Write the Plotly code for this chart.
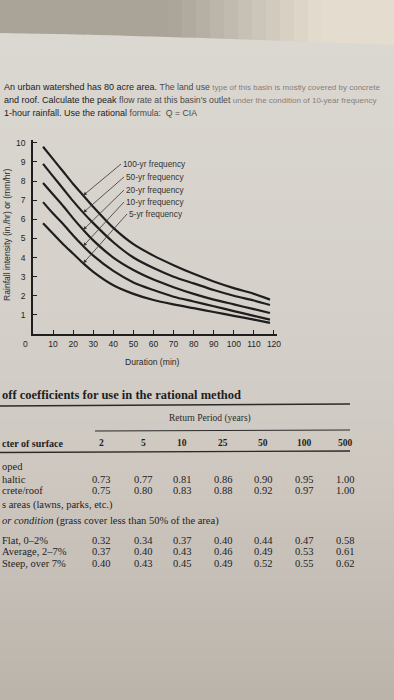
import plotly.graph_objects as go

W, H = 394, 700

# ---------------- data ----------------
durations = [5, 10, 15, 20, 25, 30, 40, 50, 60, 70, 80, 90, 100, 110, 118]
i_100yr = [9.8, 9.15, 8.5, 7.85, 7.25, 6.65, 5.55, 4.7, 4.1, 3.6, 3.15, 2.75, 2.4, 2.1, 1.8]
i_50yr = [8.9, 8.25, 7.6, 6.95, 6.35, 5.8, 4.8, 4.0, 3.45, 3.0, 2.65, 2.3, 2.0, 1.75, 1.52]
i_20yr = [7.9, 7.3, 6.7, 6.05, 5.45, 4.9, 4.0, 3.35, 2.85, 2.45, 2.1, 1.8, 1.55, 1.3, 1.1]
i_10yr = [6.9, 6.3, 5.75, 5.15, 4.6, 4.1, 3.3, 2.7, 2.3, 1.95, 1.7, 1.45, 1.2, 0.95, 0.75]
i_5yr = [5.8, 5.25, 4.7, 4.2, 3.7, 3.25, 2.55, 2.1, 1.78, 1.55, 1.35, 1.15, 0.95, 0.75, 0.58]
curve_labels = ["100-yr frequency", "50-yr frequency", "20-yr frequency",
                "10-yr frequency", "5-yr frequency"]
x_ticks = [10, 20, 30, 40, 50, 60, 70, 80, 90, 100, 110, 120]
y_ticks = [1, 2, 3, 4, 5, 6, 7, 8, 9, 10]

question_lines = [
    ["An urban watershed has 80 acre area. ", "The land use ",
     "type of this basin is mostly covered by concrete"],
    ["and roof. Calculate the peak ", "flow rate at this basin's outlet ",
     "under the condition of 10-year frequency"],
    ["1-hour rainfall. Use the rational ", "formula:  Q = CIA", ""],
]

table_title = "off coefficients for use in the rational method"
return_period_title = "Return Period (years)"
surface_header = "cter of surface"
return_periods = ["2", "5", "10", "25", "50", "100", "500"]
row_labels = ["oped", "haltic", "crete/roof", "s areas (lawns, parks, etc.)",
              "<i>or condition</i> (grass cover less than 50% of the area)",
              "Flat, 0–2%", "Average, 2–7%", "Steep, over 7%"]
c_asphaltic = [0.73, 0.77, 0.81, 0.86, 0.90, 0.95, 1.00]
c_concrete = [0.75, 0.80, 0.83, 0.88, 0.92, 0.97, 1.00]
c_flat = [0.32, 0.34, 0.37, 0.40, 0.44, 0.47, 0.58]
c_average = [0.37, 0.40, 0.43, 0.46, 0.49, 0.53, 0.61]
c_steep = [0.40, 0.43, 0.45, 0.49, 0.52, 0.55, 0.62]
row_values = [None, c_asphaltic, c_concrete, None, None, c_flat, c_average, c_steep]

# ---------------- layout helpers ----------------
L, R, T, B = 33, 117, 140, 366
PW = W - L - R
PH = H - T - B
X_MAX, Y_MAX = 121.5, 10.15


def fx(px):
    return (px - L) / PW


def fy(py):
    return (H - B - py) / PH


def hex2rgb(h):
    h = h.lstrip("#")
    return [int(h[i:i + 2], 16) for i in (0, 2, 4)]


def mix(c1, c2, t):
    a, b = hex2rgb(c1), hex2rgb(c2)
    return "#%02x%02x%02x" % tuple(int(round(a[i] + (b[i] - a[i]) * t)) for i in range(3))


INK = "#1e1e1e"
SANS = "Liberation Sans, Arial, sans-serif"
SERIF = "Liberation Serif, Times New Roman, serif"

fig = go.Figure()
curves = [i_100yr, i_50yr, i_20yr, i_10yr, i_5yr]
for lab, ys in zip(curve_labels, curves):
    fig.add_trace(go.Scatter(x=durations, y=ys, mode="lines", name=lab,
                             line=dict(color=INK, width=2.2, shape="spline", smoothing=0.8),
                             showlegend=False, hoverinfo="skip"))

shapes = []
# paper background gradient bands
stops = [(30, "#dbd7d1"), (300, "#d5d1ca"), (480, "#cdc7c0"), (700, "#bbb4ab")]
for y0 in range(30, 700, 10):
    yc = y0 + 5
    col = stops[-1][1]
    for (ya, ca), (yb_, cb) in zip(stops[:-1], stops[1:]):
        if ya <= yc <= yb_:
            col = mix(ca, cb, (yc - ya) / (yb_ - ya))
    shapes.append(dict(type="rect", xref="paper", yref="paper", layer="below",
                       x0=fx(0), x1=fx(W), y0=fy(y0 + 10.5), y1=fy(y0),
                       line=dict(width=0), fillcolor=col))


def yb(px):
    return 33 + 12 * (px / W) ** 1.3


# top dark surface above the page edge
step = 14
for x0 in range(0, W, step):
    x1 = min(x0 + step + 1, W)
    t = min(max(((x0 + x1) / 2 - 170) / 150, 0), 1)
    col = mix("#a9a398", "#e4dccf", t)
    path = "M %f %f L %f %f L %f %f L %f %f Z" % (
        fx(x0), fy(0), fx(x1), fy(0), fx(x1), fy(yb(x1)), fx(x0), fy(yb(x0)))
    shapes.append(dict(type="path", xref="paper", yref="paper", layer="below",
                       path=path, line=dict(width=0), fillcolor=col))

# table rules
for (xa, ya, xb, yb2, w) in [(0, 406, 350, 404, 1.6), (95, 431, 350, 430, 1.0),
                             (0, 452.5, 350, 451, 1.4)]:
    shapes.append(dict(type="line", xref="paper", yref="paper",
                       x0=fx(xa), y0=fy(ya), x1=fx(xb), y1=fy(yb2),
                       line=dict(color="#2a2a2a", width=w)))

ann = []


def text_at(px, py, text, size, family, color=INK, xanchor="center", **kw):
    ann.append(dict(xref="paper", yref="paper", x=fx(px), y=fy(py), text=text,
                    xanchor=xanchor, yanchor="middle", showarrow=False,
                    font=dict(family=family, size=size, color=color), **kw))


# question text (right part smaller and fainter, as in the photographed page)
tiers = [("#1c1c1c", 9), ("#4d4a47", 8.7), ("#85817b", 8)]
for parts, py in zip(question_lines, [87, 100, 113]):
    txt = "".join('<span style="color:%s;font-size:%spx">%s</span>' % (c, s, p)
                  for (c, s), p in zip(tiers, parts) if p)
    text_at(2, py, txt, 9, SANS, xanchor="left")

# curve labels with arrows (heads on the curves at 25 min)
head_idx = 4
tails = [(121, 164), (124, 177), (124, 190), (124, 202), (127, 214)]
for lab, ys, (tx, ty) in zip(curve_labels, curves, tails):
    hx = durations[head_idx]
    hy = ys[head_idx]
    hpx = L + hx * PW / X_MAX
    hpy = (H - B) - hy * PH / Y_MAX
    ann.append(dict(xref="x", yref="y", x=hx, y=hy, text=lab,
                    ax=tx - hpx, ay=ty - hpy, xanchor="left", yanchor="middle",
                    showarrow=True, arrowhead=2, arrowsize=0.9, arrowwidth=0.8,
                    arrowcolor="#333333", standoff=0,
                    font=dict(family=SANS, size=8.3, color="#333333")))

# axis titles and the 0 label
text_at(25, 344, "0", 8.5, SANS)
text_at(152, 362, "Duration (min)", 8.6, SANS, color="#2a2a2a")
text_at(7, 235, "Rainfall intensity (in./hr) or (mm/hr)", 8.6, SANS, color="#2a2a2a",
        textangle=-90)

# table text
text_at(0, 395, "<b>%s</b>" % table_title, 12.5, SERIF, xanchor="left")
text_at(210, 418, return_period_title, 9.5, SERIF, color="#2a2a2a")
text_at(0, 443, "<b>%s</b>" % surface_header, 10, SERIF, xanchor="left")
col_x = [101, 143, 182, 223, 263, 304, 345]
for cx, rp in zip(col_x, return_periods):
    text_at(cx, 443, "<b>%s</b>" % rp, 9.5, SERIF)
row_y = [466, 479, 490, 505, 521, 540, 551, 563]
for lab, vals, ry in zip(row_labels, row_values, row_y):
    text_at(0, ry, lab, 10.5, SERIF, xanchor="left")
    if vals:
        for cx, v in zip(col_x, vals):
            text_at(cx, ry, "%.2f" % v, 10.5, SERIF)

axis_common = dict(showline=True, linecolor=INK, linewidth=1.6, ticks="inside", ticklen=4,
                   tickwidth=1.2, tickcolor=INK, showgrid=False, zeroline=False,
                   tickfont=dict(family=SANS, size=8.5, color=INK), fixedrange=True)

fig.update_layout(
    width=W, height=H,
    margin=dict(l=L, r=R, t=T, b=B, pad=0),
    paper_bgcolor="#d9d5cf", plot_bgcolor="rgba(0,0,0,0)",
    xaxis=dict(range=[0, X_MAX], tickvals=x_ticks, ticklabelstandoff=1, **axis_common),
    yaxis=dict(range=[0, Y_MAX], tickvals=y_ticks, ticklabelstandoff=4, **axis_common),
    shapes=shapes, annotations=ann, showlegend=False,
)

fig.write_html("out.html", config={"displayModeBar": False},
               post_script="document.body.style.margin='0';document.body.style.overflow='hidden';")
